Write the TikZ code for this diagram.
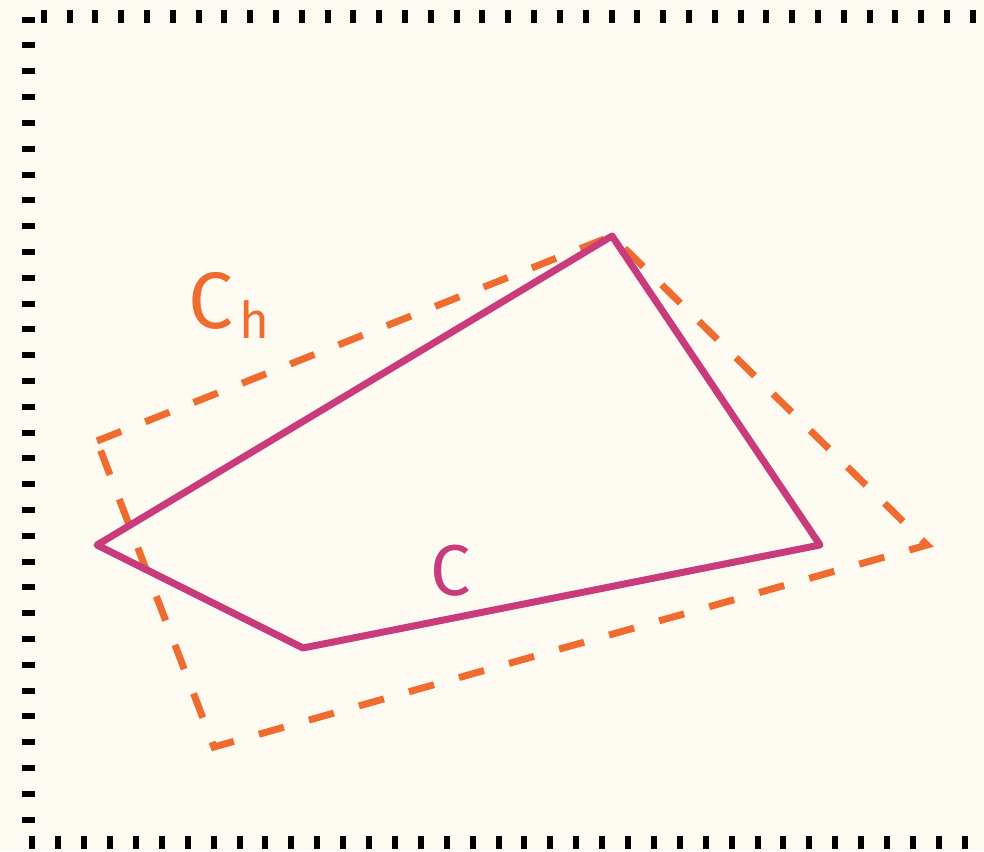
\documentclass[tikz,border=0pt]{standalone}
\usepackage{fontspec}
\setmainfont{Fira Sans}
\definecolor{bg}{HTML}{FDFAF2}
\definecolor{orng}{HTML}{EE6C2F}
\definecolor{mag}{HTML}{C83C7E}
\begin{document}
\begin{tikzpicture}[x=1pt,y=-1pt,
  frame/.style={line width=13pt, black},
  hull/.style={orng, line width=7pt, dash pattern=on 26pt off 26pt, line join=miter},
  poly/.style={mag, line width=7pt, line join=round, line cap=round}]
\fill[bg] (0,0) rectangle (984,851);
\useasboundingbox (0,0) rectangle (984,851);
% frame
\coordinate (t1) at (40.7,16.7); \coordinate (t2) at (984,16.7);
\coordinate (l1) at (28.8,16.7); \coordinate (l2) at (28.8,830);
\coordinate (b1) at (29.3,842.2); \coordinate (b2) at (984,842.2);
\draw[frame, dash pattern=on 6pt off 19.81pt] (t1) -- (t2);
\draw[frame, dash pattern=on 6pt off 19.8pt] (l1) -- (l2);
\draw[frame, dash pattern=on 6pt off 19.9pt] (b1) -- (b2);
% hull
\coordinate (h1) at (97,441); \coordinate (h2) at (612,236);
\coordinate (h3) at (927,545); \coordinate (h4) at (214,747);
\draw[hull] (h1) -- (h2) -- (h3) -- (h4) -- cycle;
% polygon
\coordinate (p1) at (97,545); \coordinate (p2) at (612,236);
\coordinate (p3) at (820,545); \coordinate (p4) at (303,648);
\draw[poly] (p1) -- (p2) -- (p3) -- (p4) -- cycle;
% labels
\node[anchor=base west, inner sep=0, text=orng, font=\fontsize{80}{80}\selectfont] (lch) at (188,328) {C\kern6pt\raisebox{-10pt}{\fontsize{51}{51}\selectfont h}};
\node[anchor=base west, inner sep=0, text=mag, font=\fontsize{72}{72}\selectfont] (lc) at (430,595) {C};
\end{tikzpicture}
\end{document}
